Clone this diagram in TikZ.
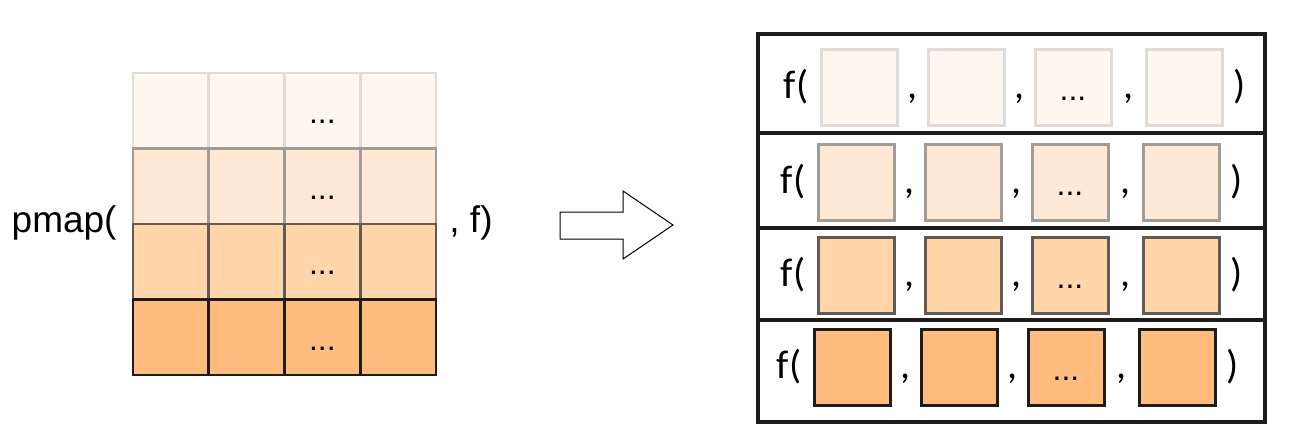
\documentclass[tikz,border=0pt]{standalone}
\usepackage{fontspec}
\setmainfont{Liberation Sans}
\newfontfamily\calfont{Carlito}
\usetikzlibrary{calc,positioning}
\definecolor{FillA}{HTML}{FFF6EF}
\definecolor{FillB}{HTML}{FFE8D5}
\definecolor{FillC}{HTML}{FFD5A9}
\definecolor{FillD}{HTML}{FFBC7E}
\definecolor{LineA}{HTML}{E0DBD8}
\definecolor{LineB}{HTML}{A29C97}
\definecolor{LineC}{HTML}{615B56}
\definecolor{LineD}{HTML}{1C1C1C}
\tikzset{
  cell/.style={
    draw, line width=2.7pt, minimum size=75.5pt, inner sep=0pt,
    font=\fontsize{32}{36}\selectfont, text height=26pt, text depth=0pt
  },
  item/.style={
    draw, line width=3pt, minimum size=76pt, inner sep=0pt,
    font=\fontsize{32}{36}\selectfont, text height=26pt, text depth=0pt
  },
  rowbox/.style={draw=LineD, line width=3.5pt, minimum width=507pt, inner sep=0pt},
  big/.style={font=\fontsize{37}{40}\selectfont, inner sep=0pt},
  call/.style={font=\calfont\fontsize{40}{44}\selectfont, inner sep=0pt},
  blockarrow/.style={draw=black, line width=1pt, fill=white, line join=miter}
}

\begin{document}
\begin{tikzpicture}[x=1pt, y=-1pt]
    \useasboundingbox (0,0) rectangle (1300,447);
    % input grid
    \foreach \i/\tone in {1/A, 2/B, 3/C, 4/D}
      \foreach \j in {1,...,4}
        \node[cell, fill=Fill\tone, draw=Line\tone] (g\i\j)
          at ({133+75.75*(\j-0.5)}, {73+75.5*(\i-0.5)}) {\ifnum\j=3 ...\fi};
    \node[big, anchor=east, xshift=-15pt] (pmap) at (g31.north west) {pmap(};
    \node[big, anchor=west, xshift=12pt] (tail) at (g34.north east) {, f)};
    % block arrow
    \draw[blockarrow] (560,212) -- (623,212) -- (623,191) -- (673,225)
      -- (623,259) -- (623,239) -- (560,239) -- cycle;
    % result rows
    \foreach \i/\top/\bot in {1/34/133, 2/133/228, 3/228/320, 4/320/422}
      \node[rowbox, minimum height={\bot-\top}] (row\i) at (1011.5, {(\top+\bot)/2}) {};
    \foreach \i/\tone/\s/\yc in {1/A/821/87, 2/B/818/182, 3/C/818/275, 4/D/814/367} {
      \foreach \j/\dx in {1/0, 2/107, 3/214, 4/325}
        \node[item, fill=Fill\tone, draw=Line\tone] (s\i\j)
          at ({\s+\dx+38}, \yc) {\ifnum\j=3 ...\fi};
      \node[call, anchor=east, xshift=-11pt] (f\i) at (s\i1.west) {f(};
      \node[call, anchor=west, xshift=10pt] (p\i) at (s\i4.east) {)};
      \foreach \j [count=\k from 2] in {1,2,3}
        \node[call, anchor=base] (c\i\j) at ($(s\i\j.east)!0.5!(s\i\k.west) + (0,11)$) {,};
    }
  \end{tikzpicture}
\end{document}
